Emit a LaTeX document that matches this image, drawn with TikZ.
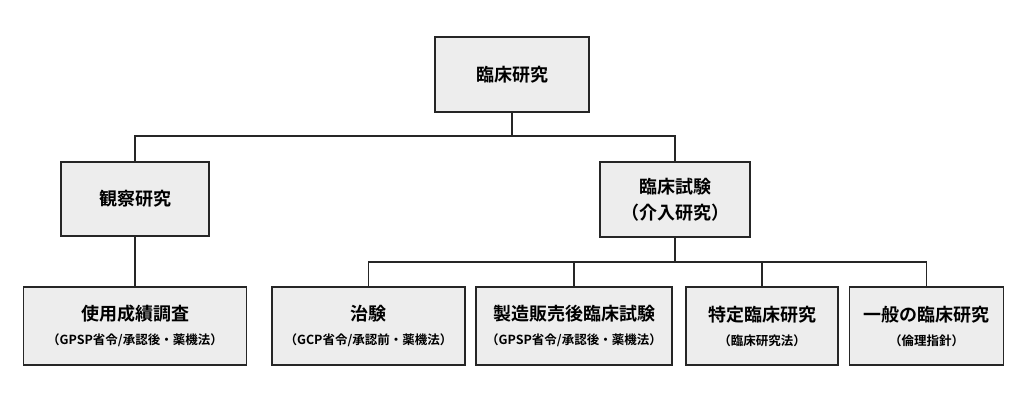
\documentclass[tikz,border=0pt]{standalone}
\usepackage{fontspec}
\setmainfont{Noto Sans CJK JP}
\newfontfamily\jpbold{Noto Sans CJK JP Bold}
\usetikzlibrary{positioning}

\begin{document}
\begin{tikzpicture}
	[x=1pt,y=1pt,line cap=round,
	%Styles
	box/.style={draw=black!85,line width=1.3pt,fill=black!7,align=center,inner sep=0pt},
	title text/.style={font=\jpbold\fontsize{18}{26}\selectfont},
	link/.style={draw=black!85,line width=1.3pt}
	]
	
	%Macros
	\newcommand{\subnote}[1]{{\fontsize{12.5}{15}\selectfont\mdseries #1}}
	
	\useasboundingbox (0,0) rectangle (1024,412);
	
	%Top level
	\node[box,title text,minimum width=154,minimum height=75] (root) at (512,337.5) {臨床研究};
	
	%Second level
	\node[box,title text,minimum width=148,minimum height=74] (obs) at (135,213) {観察研究};
	\node[box,title text,minimum width=150,minimum height=75] (trial) at (675,212.5) {臨床試験\\（介入研究）};
	
	%Third level
	\node[box,title text,minimum width=223,minimum height=78] (survey) at (135,86) {使用成績調査\\[-2pt]\subnote{（GPSP省令/承認後・薬機法）}};
	\node[box,title text,minimum width=193,minimum height=78] (chiken) at (368.5,86) {治験\\[-2pt]\subnote{（GCP省令/承認前・薬機法）}};
	\node[box,title text,minimum width=196,minimum height=78] (post) at (574,86) {製造販売後臨床試験\\[-2pt]\subnote{（GPSP省令/承認後・薬機法）}};
	\node[box,title text,minimum width=152,minimum height=78] (spec) at (762,86) {特定臨床研究\\[-2pt]\subnote{（臨床研究法）}};
	\node[box,title text,minimum width=154,minimum height=78] (general) at (926.5,86) {一般の臨床研究\\[-2pt]\subnote{（倫理指針）}};
	
	%Connectors
	\coordinate (j1) at (512,276);
	\coordinate (j2) at (675,150);
	\draw[link] (root.south) -- (j1);
	\draw[link] (obs.north) |- (j1) -| (trial.north);
	\draw[link] (obs.south) -- (survey.north);
	\draw[link] (trial.south) -- (j2);
	\draw[link] (chiken.north) |- (j2) -| (general.north);
	\draw[link] (post.north) -- (post.north |- j2);
	\draw[link] (spec.north) -- (spec.north |- j2);
\end{tikzpicture}
\end{document}
